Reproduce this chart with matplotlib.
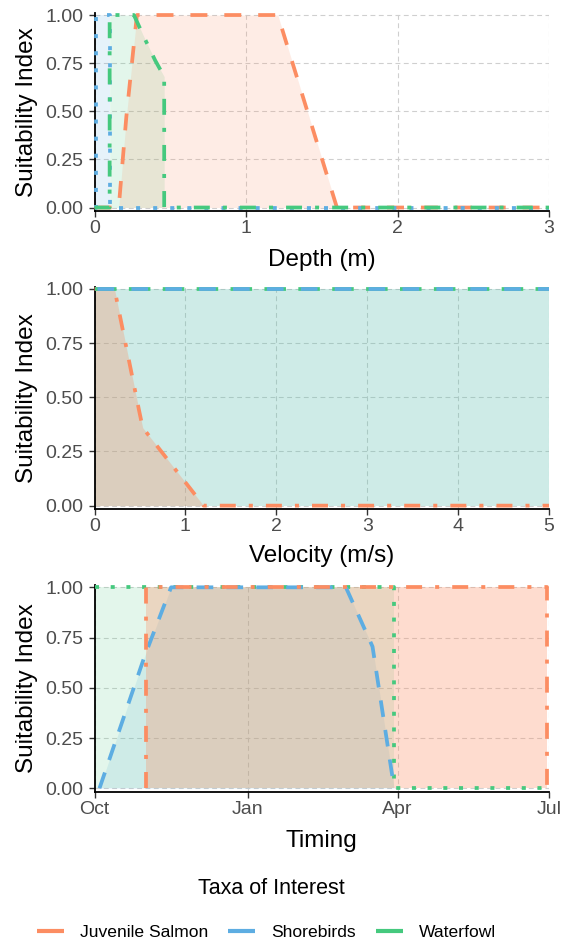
import numpy as np
import matplotlib
matplotlib.use("Agg")
import matplotlib.pyplot as plt
import matplotlib.dates as mdates
from matplotlib.lines import Line2D

plt.rcParams['font.family'] = ['Liberation Sans', 'DejaVu Sans']
plt.rcParams['lines.scale_dashes'] = False

# ---- data -------------------------------------------------------------
taxa = ["Juvenile Salmon", "Shorebirds", "Waterfowl"]
taxa_colors = ["#FC8D62", "#5DADE2", "#45C97E"]

# depth suitability (m)
depth_salmon_x = [0.0, 0.16, 0.21, 0.28, 1.21, 1.60, 3.0]
depth_salmon_y = [0.0, 0.0, 0.47, 1.0, 1.0, 0.0, 0.0]
depth_shore_x = [0.0, 0.01, 0.01, 0.10, 0.10, 3.0]
depth_shore_y = [0.0, 0.0, 1.0, 1.0, 0.0, 0.0]
depth_water_x = [0.0, 0.10, 0.10, 0.26, 0.33, 0.40, 0.46, 0.46, 3.0]
depth_water_y = [0.0, 0.0, 1.0, 1.0, 0.88, 0.765, 0.68, 0.0, 0.0]

# velocity suitability (m/s)
vel_salmon_x = [0.0, 0.22, 0.49, 0.53, 1.20, 5.0]
vel_salmon_y = [1.0, 1.0, 0.44, 0.36, 0.0, 0.0]
vel_shore_x = [0.0, 5.0]
vel_shore_y = [1.0, 1.0]
vel_water_x = [0.0, 5.0]
vel_water_y = [1.0, 1.0]

# timing suitability
time_salmon_x = ["2020-11-01", "2020-11-01", "2021-06-30", "2021-06-30"]
time_salmon_y = [0.0, 1.0, 1.0, 0.0]
time_shore_x = ["2020-10-04", "2020-10-31", "2020-11-16", "2021-03-01", "2021-03-17", "2021-03-30"]
time_shore_y = [0.0, 0.655, 1.0, 1.0, 0.705, 0.0]
time_water_x = ["2020-10-01", "2021-03-30", "2021-03-30", "2021-07-01"]
time_water_y = [1.0, 1.0, 0.0, 0.0]

time_start, time_end = "2020-10-01", "2021-07-01"

y_ticks = [0.0, 0.25, 0.50, 0.75, 1.00]
y_ticklabels = ["0.00", "0.25", "0.50", "0.75", "1.00"]

# ---- styles -----------------------------------------------------------
DASHED = (0, (12.2, 12.2))
DOTTED_S = (0, (2.9, 9.4))
DOTDASH = (0, (11.5, 9.4, 2.9, 9.4))
DASH_M_G = (0, (15.5, 8.9))
DASH_M_B = (22.6, (12.0, 12.4))
DASH_B = (0, (12.0, 9.5))
DOTTED = (0, (2.9, 8.4))

LW = 2.7
C_SAL, C_SHO, C_WAT = taxa_colors


def dnum(seq):
    return mdates.date2num(np.array(seq, dtype="datetime64[D]"))


fig = plt.figure(figsize=(5.65, 9.44), dpi=100)
W, H = 565.0, 944.0
left_px, right_px = 94.5, 549.0
panels_px = [(13.1, 197.5), (286.8, 222.3), (585.3, 206.2)]
axes = []
for top, hgt in panels_px:
    ax = fig.add_axes([left_px / W, 1 - (top + hgt) / H, (right_px - left_px) / W, hgt / H])
    axes.append(ax)


def style(ax, xlabel, xlabel_y):
    ax.set_ylim(-0.016, 1.01)
    ax.set_yticks(y_ticks)
    ax.set_yticklabels(y_ticklabels)
    for s in ("top", "right"):
        ax.spines[s].set_visible(False)
    for s in ("left", "bottom"):
        ax.spines[s].set_color("black")
        ax.spines[s].set_linewidth(1.3)
    ax.set_axisbelow(True)
    ax.grid(True, color="#CFCFCF", linestyle=(0, (3.5, 2.5)), linewidth=0.8)
    ax.tick_params(axis="both", direction="out", length=4.5, width=1.0,
                   color="#333333", labelcolor="#4D4D4D", labelsize=14)
    ax.tick_params(axis="y", pad=3.6)
    ax.tick_params(axis="x", pad=2.0)
    ax.set_ylabel("Suitability Index", fontsize=17.5, color="black", va="center")
    ax.yaxis.set_label_coords((26.7 - left_px) / (right_px - left_px), 0.5)
    ax.set_xlabel(xlabel, fontsize=17.5, color="black", va="top")
    ax.xaxis.set_label_coords(0.5, xlabel_y)


def draw(ax, x, y, color, ls, z=3):
    ax.plot(x, y, color=color, linestyle=ls, linewidth=LW, zorder=z,
            solid_capstyle="butt", dash_capstyle="butt", clip_on=False)


# depth panel
ax = axes[0]
ax.fill_between(depth_shore_x, 0, depth_shore_y, color=C_SHO, alpha=0.15, linewidth=0, zorder=2)
ax.fill_between(depth_water_x, 0, depth_water_y, color=C_WAT, alpha=0.15, linewidth=0, zorder=2)
ax.fill_between(depth_salmon_x, 0, depth_salmon_y, color=C_SAL, alpha=0.16, linewidth=0, zorder=2)
draw(ax, depth_salmon_x, depth_salmon_y, C_SAL, DASHED, z=3)
draw(ax, depth_shore_x, depth_shore_y, C_SHO, DOTTED_S, z=4)
draw(ax, depth_water_x, depth_water_y, C_WAT, DOTDASH, z=5)
ax.set_xlim(0, 3)
ax.set_xticks([0, 1, 2, 3])
ax.set_xticklabels(["0", "1", "2", "3"])
style(ax, "Depth (m)", -38 / 197.5)

# velocity panel
ax = axes[1]
ax.fill_between(vel_shore_x, 0, vel_shore_y, color=C_SHO, alpha=0.15, linewidth=0, zorder=2)
ax.fill_between(vel_water_x, 0, vel_water_y, color=C_WAT, alpha=0.15, linewidth=0, zorder=2)
ax.fill_between(vel_salmon_x, 0, vel_salmon_y, color=C_SAL, alpha=0.30, linewidth=0, zorder=2)
draw(ax, vel_salmon_x, vel_salmon_y, C_SAL, DOTDASH, z=3)
draw(ax, vel_water_x, vel_water_y, C_WAT, DASH_M_G, z=4)
draw(ax, vel_shore_x, vel_shore_y, C_SHO, DASH_M_B, z=5)
ax.set_xlim(0, 5)
ax.set_xticks([0, 1, 2, 3, 4, 5])
ax.set_xticklabels(["0", "1", "2", "3", "4", "5"])
style(ax, "Velocity (m/s)", -36 / 222.3)

# timing panel
ax = axes[2]
tx_sal, tx_sho, tx_wat = dnum(time_salmon_x), dnum(time_shore_x), dnum(time_water_x)
ax.fill_between(tx_sho, 0, time_shore_y, color=C_SHO, alpha=0.15, linewidth=0, zorder=2)
ax.fill_between(tx_wat, 0, time_water_y, color=C_WAT, alpha=0.15, linewidth=0, zorder=2)
ax.fill_between(tx_sal, 0, time_salmon_y, color=C_SAL, alpha=0.30, linewidth=0, zorder=2)
draw(ax, tx_wat, time_water_y, C_WAT, DOTTED, z=3)
draw(ax, tx_sho, time_shore_y, C_SHO, DASH_B, z=4)
draw(ax, tx_sal, time_salmon_y, C_SAL, DOTDASH, z=5)
ax.set_xlim(dnum([time_start])[0], dnum([time_end])[0])
ax.xaxis.set_major_locator(mdates.MonthLocator(bymonth=[1, 4, 7, 10]))
ax.xaxis.set_major_formatter(mdates.DateFormatter("%b"))
style(ax, "Timing", -38 / 206.2)

# legend
fig.text(271.5 / W, 1 - 888 / H, "Taxa of Interest", ha="center", va="center", fontsize=15.5)
handles = [Line2D([], [], color=c, linewidth=3.0, solid_capstyle="butt") for c in taxa_colors]
fig.legend(handles, taxa, loc="center", bbox_to_anchor=(266.5 / W, 1 - 932 / H), ncol=3,
           frameon=False, fontsize=12.6, handlelength=1.55, handletextpad=0.91,
           columnspacing=1.14, borderaxespad=0, borderpad=0)

fig.savefig("out.png", dpi=100)
